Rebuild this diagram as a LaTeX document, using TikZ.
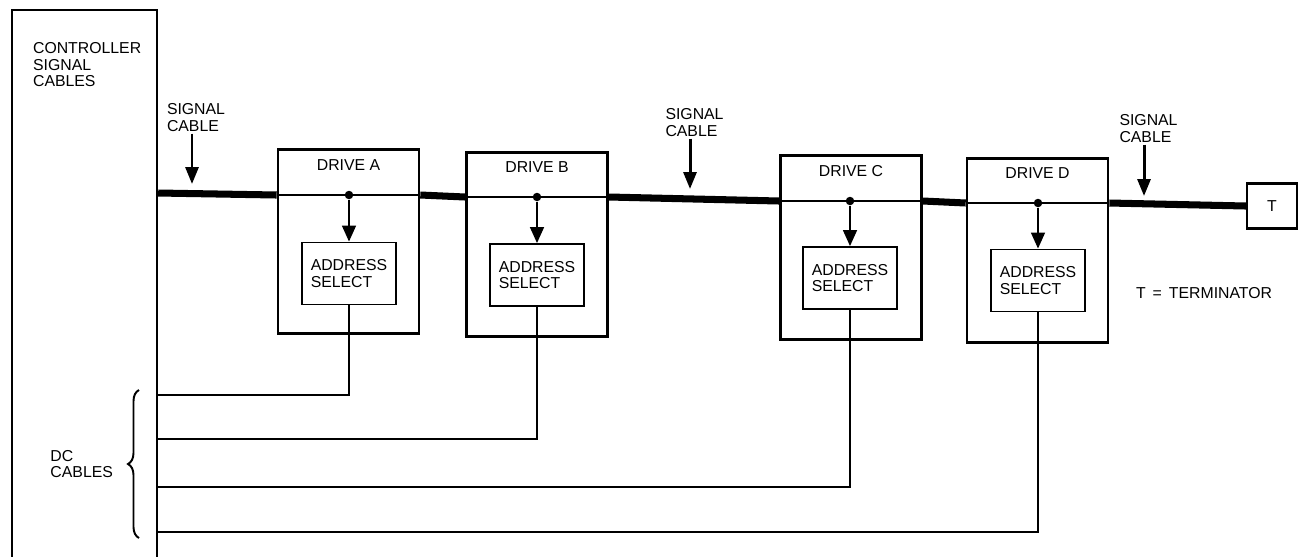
\documentclass[tikz,border=0pt]{standalone}
\usepackage{fontspec}
\setmainfont{Liberation Sans}
\usetikzlibrary{arrows.meta,positioning,decorations.pathreplacing}

\begin{document}
\begin{tikzpicture}[
    x=0.02cm, y=-0.02cm,
    every node/.style={font=\fontsize{9}{9.6}\selectfont},
    lbl/.style={align=left, inner sep=1pt},
    ctrlbox/.style={draw, line width=1.4pt, minimum width=2.9cm, minimum height=12cm, inner sep=0pt},
    drive/.style={draw, line width=1.5pt, minimum width=2.82cm, minimum height=3.68cm, inner sep=0pt},
    addr/.style={draw, line width=1.1pt, align=left, minimum width=1.88cm, minimum height=1.24cm, inner sep=0pt},
    termbox/.style={draw, line width=1.3pt, minimum width=1cm, minimum height=0.9cm, inner sep=0pt},
    tapdot/.style={circle, fill, inner sep=0pt, minimum size=0.17cm},
    cable/.style={line width=4pt},
    bus/.style={line width=0.6pt},
    wire/.style={line width=0.7pt},
    tap/.style={-{Triangle[width=0.28cm, length=0.32cm]}, line width=0.9pt},
    sigarrow/.style={-{Triangle[width=0.26cm, length=0.34cm]}, line width=1.7pt},
    dcbrace/.style={decorate, decoration={brace, amplitude=0.22cm}, line width=1.1pt}
]
\useasboundingbox (0,0) rectangle (1300,556);
\clip (0,0) rectangle (1300,556);

\node[ctrlbox] (ctrl) at (84.5,310) {};
\node[lbl, anchor=north west] (ctrltxt) at (31,40) {CONTROLLER\\SIGNAL\\CABLES};

\node[drive] (drvA) at (348.5,241.5) {};
\node[drive] (drvB) at (537,244.5) {};
\node[drive] (drvC) at (851,247.5) {};
\node[drive] (drvD) at (1037.5,250.5) {};

\node[lbl] (nameA) at ([yshift=-0.34cm]drvA.north) {DRIVE A};
\node[lbl] (nameB) at ([yshift=-0.32cm]drvB.north) {DRIVE B};
\node[lbl] (nameC) at ([yshift=-0.34cm]drvC.north) {DRIVE C};
\node[lbl] (nameD) at ([yshift=-0.32cm]drvD.north) {DRIVE D};

\node[tapdot] (dotA) at (349,195) {};
\node[tapdot] (dotB) at (537,197) {};
\node[tapdot] (dotC) at (850,201) {};
\node[tapdot] (dotD) at (1038,203) {};

\node[addr] (selA) at (349,273.5) {ADDRESS\\SELECT};
\node[addr] (selB) at (537,275) {ADDRESS\\SELECT};
\node[addr] (selC) at (850,278) {ADDRESS\\SELECT};
\node[addr] (selD) at (1038,280.5) {ADDRESS\\SELECT};

\node[termbox] (term) at (1272,206) {T};
\node[lbl] (termkey) at (1204,293) {T \,=\, TERMINATOR};

\node[lbl] (sig1) at (196,117.5) {SIGNAL\\CABLE};
\node[lbl] (sig2) at (694.5,122.5) {SIGNAL\\CABLE};
\node[lbl] (sig3) at (1148.5,128.5) {SIGNAL\\CABLE};
\coordinate (hit1) at (192,184);
\coordinate (hit2) at (690,189);
\coordinate (hit3) at (1144,196);

\node[lbl, anchor=east] (dctxt) at (115,464) {DC\\CABLES};
\draw[dcbrace] (139,538) -- (139,390);

\coordinate (dcA) at (ctrl.east |- 0,395);
\coordinate (dcB) at (ctrl.east |- 0,439);
\coordinate (dcC) at (ctrl.east |- 0,487);
\coordinate (dcD) at (ctrl.east |- 0,532);

\draw[cable] (ctrl.east |- 0,193) -- (drvA.west |- dotA);
\draw[cable] (drvA.east |- dotA) -- (drvB.west |- dotB);
\draw[cable] (drvB.east |- dotB) -- (drvC.west |- dotC);
\draw[cable] (drvC.east |- dotC) -- (drvD.west |- dotD);
\draw[cable] (drvD.east |- dotD) -- (term.west);

\draw[bus] (drvA.west |- dotA) -- (drvA.east |- dotA);
\draw[bus] (drvB.west |- dotB) -- (drvB.east |- dotB);
\draw[bus] (drvC.west |- dotC) -- (drvC.east |- dotC);
\draw[bus] (drvD.west |- dotD) -- (drvD.east |- dotD);

\draw[tap] (dotA) -- (selA);
\draw[tap] (dotB) -- (selB);
\draw[tap] (dotC) -- (selC);
\draw[tap] (dotD) -- (selD);

\draw[sigarrow] (sig1.south -| hit1) -- (hit1);
\draw[sigarrow] (sig2.south -| hit2) -- (hit2);
\draw[sigarrow] (sig3.south -| hit3) -- (hit3);

\draw[wire] (selA.south) |- (dcA);
\draw[wire] (selB.south) |- (dcB);
\draw[wire] (selC.south) |- (dcC);
\draw[wire] (selD.south) |- (dcD);
\end{tikzpicture}
\end{document}
